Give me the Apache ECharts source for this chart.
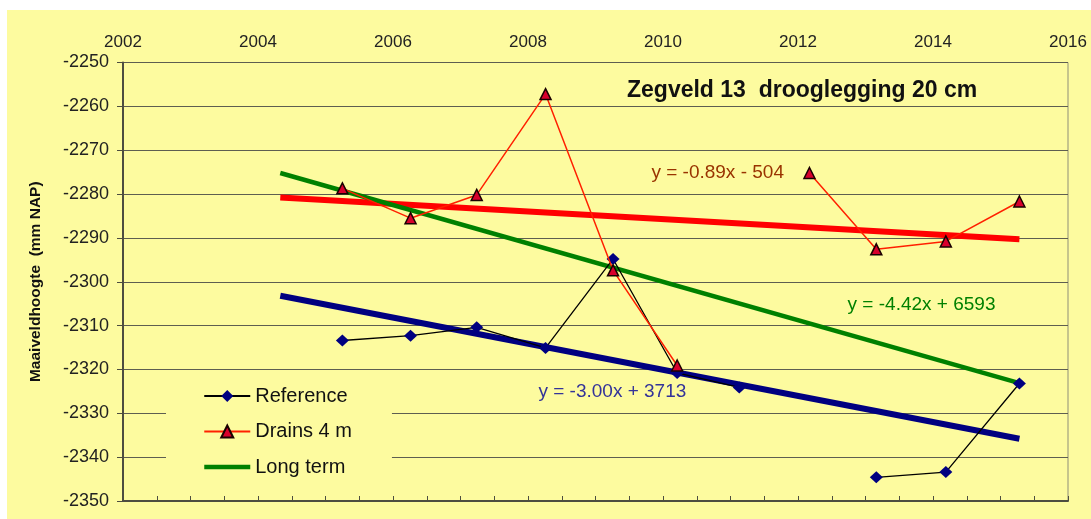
<!DOCTYPE html>
<html>
<head>
<meta charset="utf-8">
<script src="https://cdn.jsdelivr.net/npm/echarts@6/dist/echarts.min.js"></script>
<style>
  html, body { margin: 0; padding: 0; background: #ffffff; }
  #chart { position: absolute; left: 7px; top: 10px; width: 1084px; height: 509px; }
</style>
</head>
<body>
<div id="chart"></div>
<script>
// measurement dates (decimal years) and surface level (mm NAP)
const years = [2005.25, 2006.26, 2007.24, 2008.26, 2009.26, 2010.21, 2011.13, 2012.17, 2013.16, 2014.19, 2015.28];
const reference = [-2313.4, -2312.3, -2310.4, -2315.1, -2294.8, -2320.8, -2324.1, null, -2344.6, -2343.4, -2323.2];
const drains = [-2278.7, -2285.5, -2280.2, -2257.2, -2297.4, -2319.1, null, -2275.2, -2292.6, -2290.8, -2281.7];

// trend lines, start and end
const trendYears = [2004.33, 2015.28];
const refTrend = [-2303.2, -2335.8];
const drainsTrend = [-2280.8, -2290.3];
const longTerm = [-2275.2, -2323.1];

// equation labels [year, value, text]
const refEq = [2009.25, -2325.0, "y = -3.00x + 3713"];
const drainsEq = [2010.81, -2275.2, "y = -0.89x - 504"];
const longEq = [2013.83, -2305.2, "y = -4.42x + 6593"];

const font = '"Liberation Sans", Arial, sans-serif';

function pairs(xs, ys) {
  return xs.map((x, i) => [x, ys[i] == null ? "-" : ys[i]]);
}

function eqMark(eq, color) {
  return {
    symbol: "circle",
    symbolSize: 0,
    silent: true,
    label: {
      show: true,
      position: "inside",
      formatter: eq[2],
      color: color,
      fontSize: 19,
      fontFamily: font,
    },
    data: [{ coord: [eq[0], eq[1]] }],
  };
}

let myChart = echarts.init(document.getElementById("chart"));
let option = {
  backgroundColor: "#fdfb9f",
  animation: false,
  title: {
    text: "Zegveld 13  drooglegging 20 cm",
    left: 615,
    top: 64,
    textStyle: { fontSize: 23, fontWeight: "bold", color: "#111", fontFamily: font },
  },
  grid: {
    left: 116,
    top: 52.5,
    right: 23,
    bottom: 18,
    show: true,
    borderColor: "#8f8f78",
    borderWidth: 1,
    backgroundColor: "transparent",
  },
  legend: {
    data: [
      { name: "Reference" },
      { name: "Drains 4 m" },
      { name: "Long term", itemStyle: { color: "rgba(0,0,0,0)", borderWidth: 0 }, lineStyle: { width: 4.5, color: "#008000" } },
    ],
    orient: "vertical",
    left: 159,
    top: 369,
    padding: [6, 40, 6, 36],
    backgroundColor: "#fdfb9f",
    itemWidth: 46,
    itemHeight: 15,
    itemGap: 13.5,
    textStyle: { fontSize: 20, lineHeight: 22, color: "#111", fontFamily: font },
  },
  xAxis: [
    {
      type: "value",
      position: "bottom",
      min: 2002,
      max: 2016,
      interval: 0.5,
      axisLine: { show: true, lineStyle: { color: "#4d4d40", width: 2 } },
      axisTick: { show: true, inside: true, length: 5, lineStyle: { color: "#4d4d40" } },
      axisLabel: { show: false },
      splitLine: { show: false },
    },
    {
      type: "value",
      position: "top",
      min: 2002,
      max: 2016,
      interval: 2,
      axisLine: { show: false },
      axisTick: { show: false },
      axisLabel: {
        margin: 12,
        fontSize: 17,
        color: "#222",
        fontFamily: font,
        formatter: (v) => String(v),
      },
      splitLine: { show: false },
    },
  ],
  yAxis: {
    type: "value",
    min: -2350,
    max: -2250,
    interval: 10,
    name: "Maaiveldhoogte  (mm NAP)",
    nameLocation: "middle",
    nameGap: 79,
    nameTextStyle: { fontSize: 15.5, fontWeight: "bold", color: "#111", fontFamily: font },
    axisLine: { show: true, lineStyle: { color: "#4d4d40", width: 2 } },
    axisTick: { show: true, length: 6, lineStyle: { color: "#4d4d40" } },
    axisLabel: {
      margin: 14,
      fontSize: 18,
      color: "#222",
      fontFamily: font,
      formatter: (v) => String(v),
    },
    splitLine: { show: true, lineStyle: { color: "#5e5e50", width: 1.2 } },
  },
  series: [
    {
      name: "Reference trend",
      type: "line",
      data: pairs(trendYears, refTrend),
      symbol: "none",
      lineStyle: { color: "#000080", width: 6 },
      z: 2,
      markPoint: eqMark(refEq, "#333399"),
    },
    {
      name: "Drains trend",
      type: "line",
      data: pairs(trendYears, drainsTrend),
      symbol: "none",
      lineStyle: { color: "#ff0000", width: 6 },
      z: 2,
      markPoint: eqMark(drainsEq, "#993300"),
    },
    {
      name: "Long term",
      type: "line",
      data: pairs(trendYears, longTerm),
      symbol: "none",
      lineStyle: { color: "#008000", width: 4.5 },
      itemStyle: { color: "#008000" },
      z: 2,
      markPoint: eqMark(longEq, "#008000"),
    },
    {
      name: "Reference",
      type: "line",
      data: pairs(years, reference),
      connectNulls: false,
      symbol: "diamond",
      symbolSize: [13, 12],
      lineStyle: { color: "#000000", width: 1.3 },
      itemStyle: { color: "#000080", borderColor: "#000080", borderWidth: 0 },
      z: 3,
    },
    {
      name: "Drains 4 m",
      type: "line",
      data: pairs(years, drains),
      connectNulls: false,
      symbol: "triangle",
      symbolSize: [11, 11],
      lineStyle: { color: "#ff2000", width: 1.5 },
      itemStyle: { color: "#d8002c", borderColor: "#1a0000", borderWidth: 1.5 },
      z: 4,
    },
  ],
};
myChart.setOption(option);
myChart.resize();
</script>
</body>
</html>
